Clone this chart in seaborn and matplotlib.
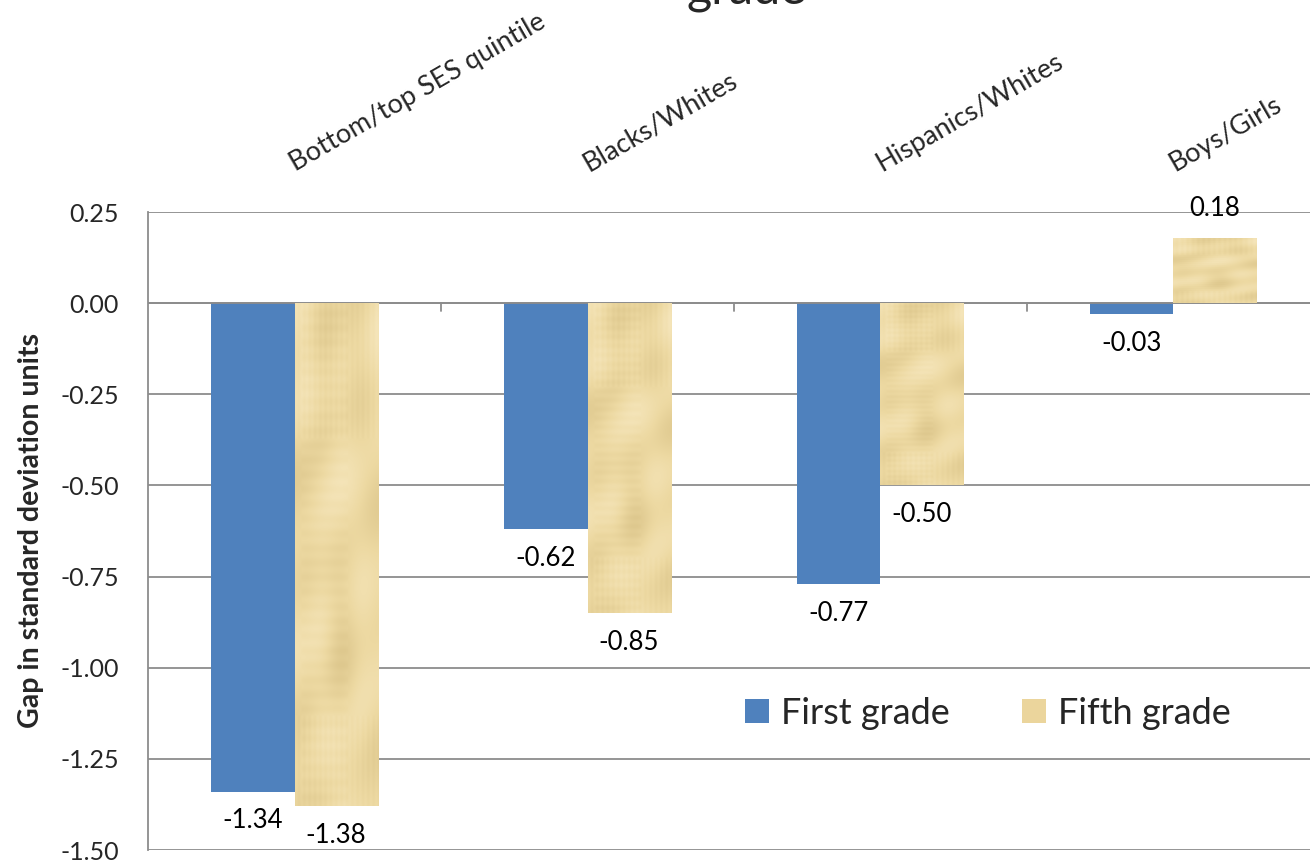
import numpy as np
import pandas as pd
import matplotlib
matplotlib.use("Agg")
import matplotlib.pyplot as plt
import matplotlib.transforms as mtransforms
from matplotlib.patches import Patch
import seaborn as sns

categories = ["Bottom/top SES quintile", "Blacks/Whites", "Hispanics/Whites", "Boys/Girls"]
first_grade = [-1.34, -0.62, -0.77, -0.03]
fifth_grade = [-1.38, -0.85, -0.50, 0.18]
series_names = ["First grade", "Fifth grade"]
y_ticks = [0.25, 0.00, -0.25, -0.50, -0.75, -1.00, -1.25, -1.50]

df = pd.DataFrame({
    "group": categories * 2,
    "grade": [series_names[0]] * 4 + [series_names[1]] * 4,
    "gap": first_grade + fifth_grade,
})

sns.set_theme(style="white")
plt.rcParams["font.family"] = ["Lato", "DejaVu Sans"]

BLUE = "#4F81BD"
TAN = "#EBD59C"
GRID = "#8C8C8C"

fig = plt.figure(figsize=(13.1, 8.64), dpi=100)
ax = fig.add_axes([148 / 1310, 1 - 850 / 864, (1320 - 148) / 1310, (850 - 212) / 864])

sns.barplot(data=df, x="group", y="gap", hue="grade", order=categories,
            hue_order=series_names, palette=[BLUE, TAN], width=0.567,
            dodge=True, errorbar=None, saturation=1, ax=ax, legend=False,
            linewidth=0)

ax.set_xlim(-0.5, 3.5)
ax.set_ylim(-1.5, 0.25)
ax.set_yticks(y_ticks)
ax.set_yticklabels([f"{v:.2f}" for v in y_ticks], fontsize=18)
ax.set_xticks([])
ax.set_xlabel("")
ax.set_ylabel("Gap in standard deviation units", fontsize=20.5, fontweight="bold", labelpad=12)

for s in ["top", "right", "bottom"]:
    ax.spines[s].set_visible(False)
ax.spines["left"].set_color(GRID)
ax.spines["left"].set_linewidth(1.3)
ax.tick_params(axis="y", length=7, width=1.3, color=GRID, direction="out", pad=14)
ax.yaxis.grid(True, color=GRID, linewidth=1.3)
ax.set_axisbelow(True)

# zero axis with category separators below it
ax.axhline(0, color=GRID, linewidth=1.3, zorder=1)
for b in [0.5, 1.5, 2.5]:
    ax.plot([b, b], [0, -0.022], color=GRID, linewidth=1.3, zorder=1, clip_on=False)

# soft papyrus-like texture for the fifth-grade bars: broad blotches plus faint fibres
h, w = 240, 90
yy, xx = np.mgrid[0:h, 0:w]
tex = (0.50 * np.sin(yy * 0.045 + 0.7) * np.sin(xx * 0.07 + 1.3)
       + 0.35 * np.sin(yy * 0.11 + xx * 0.05 + 2.1)
       + 0.25 * np.sin(xx * 0.15 + 0.4) * np.sin(yy * 0.023 + 1.1)
       + 0.12 * np.sin(yy * 0.9 + 0.3) * (np.sin(xx * 0.05) > 0.3)
       + 0.12 * np.sin(xx * 1.1 + 0.5) * (np.sin(yy * 0.03 + 0.8) > 0.4))
tex = (tex - tex.min()) / (tex.max() - tex.min())
base = np.array([237, 217, 162]) / 255.0
dark = np.array([222, 200, 142]) / 255.0
light = np.array([245, 229, 186]) / 255.0
img = np.where(tex[..., None] > 0.5,
               base + (light - base) * (tex[..., None] - 0.5) * 2,
               dark + (base - dark) * tex[..., None] * 2)

bars = list(ax.patches)
first_bars, fifth_bars = bars[:4], bars[4:8]
for p in fifth_bars:
    x0, y0 = p.get_x(), p.get_y()
    x1, y1 = x0 + p.get_width(), y0 + p.get_height()
    im = ax.imshow(img, extent=[x0, x1, min(y0, y1), max(y0, y1)], aspect="auto",
                   interpolation="bilinear", zorder=p.get_zorder())
    im.set_clip_path(p)
ax.set_xlim(-0.5, 3.5)
ax.set_ylim(-1.5, 0.25)

# value labels
for p, v in zip(first_bars + fifth_bars, first_grade + fifth_grade):
    xc = p.get_x() + p.get_width() / 2
    off = 21 if v > 0 else -21
    ax.annotate(f"{v:.2f}", (xc, v), xytext=(0, off), textcoords="offset points",
                ha="center", va="center", fontsize=18.5, color="black", zorder=5)

# category labels above the plot
trans = mtransforms.blended_transform_factory(ax.transData, ax.transAxes)
for i, c in enumerate(categories):
    ax.text(i, 1.0, c, transform=trans + mtransforms.ScaledTranslation(0.04, 0.36, fig.dpi_scale_trans),
            rotation=30, rotation_mode="anchor", ha="left", va="bottom", fontsize=19.5)

handles = [Patch(facecolor=BLUE, edgecolor="none"), Patch(facecolor=TAN, edgecolor="none")]
fig.legend(handles, series_names, loc="center", bbox_to_anchor=(988 / 1310, 1 - 713 / 864),
           ncol=2, frameon=False, fontsize=26, handlelength=0.65, handleheight=0.65,
           handletextpad=0.35, columnspacing=2.0)

fig.text(746 / 1310, 1 - 3 / 864, "grade", ha="center", va="baseline", fontsize=35)

fig.savefig("out.png", dpi=100)
